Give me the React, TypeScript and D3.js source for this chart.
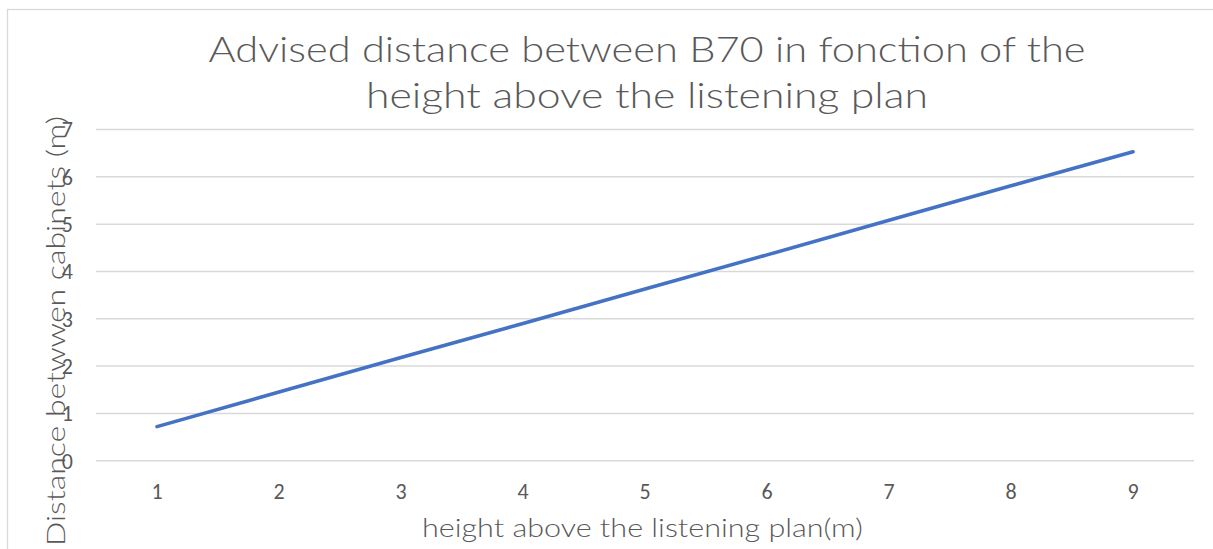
import React from "react";
import * as d3 from "d3";

const categories: string[] = ["1", "2", "3", "4", "5", "6", "7", "8", "9"];
const distances: number[] = [0.72, 1.45, 2.18, 2.9, 3.63, 4.35, 5.08, 5.81, 6.53];
const yTicks: number[] = [0, 1, 2, 3, 4, 5, 6, 7];
const titleLines: string[] = [
  "Advised distance between B70 in fonction of the",
  "height above the listening plan",
];
const xTitle = "height above the listening plan(m)";
const yTitle = "Distance betwwen cabinets (m)";

const W = 1213;
const H = 549;
const plot = { left: 96, right: 1194, top: 129.5, bottom: 460.7 };
const textColor = "#595959";
const gridColor = "#d9d9d9";
const lineColor = "#4472C4";
const titleFont = "'Century Gothic', 'URW Gothic', Lato, 'DejaVu Sans', sans-serif";
const tickFont = "Calibri, Carlito, Lato, 'Liberation Sans', sans-serif";

export default function App() {
  const x = d3.scaleBand<string>().domain(categories).range([plot.left, plot.right]);
  const y = d3.scaleLinear().domain([0, 7]).range([plot.bottom, plot.top]);
  const line = d3
    .line<number>()
    .x((_, i) => (x(categories[i]) as number) + x.bandwidth() / 2)
    .y((d) => y(d));

  return (
    <svg
      width={W}
      height={H}
      style={{ position: "fixed", left: 0, top: 0, background: "#fff" }}
    >
      <rect x={0} y={0} width={W} height={H} fill="#fff" />
      <rect
        x={7.5}
        y={9.5}
        width={W + 20}
        height={H + 20}
        fill="#fff"
        stroke={gridColor}
        strokeWidth={1.3}
      />
      {titleLines.map((t, i) => (
        <text
          key={t}
          x={647}
          y={61.7 + i * 46.3}
          textAnchor="middle"
          fontFamily={titleFont}
          fontWeight={300}
          fontSize={35}
          fill={textColor}
          textLength={i === 0 ? 877 : 562}
          lengthAdjust="spacingAndGlyphs"
        >
          {t}
        </text>
      ))}
      {yTicks.map((t) => (
        <line
          key={"g" + t}
          x1={plot.left}
          x2={plot.right}
          y1={y(t)}
          y2={y(t)}
          stroke={gridColor}
          strokeWidth={1.5}
        />
      ))}
      {yTicks.map((t) => (
        <text
          key={"yt" + t}
          x={73}
          y={y(t)}
          dy="0.36em"
          textAnchor="end"
          fontFamily={tickFont}
          fontSize={22}
          fill={textColor}
        >
          {t}
        </text>
      ))}
      {categories.map((c) => (
        <text
          key={"xt" + c}
          x={(x(c) as number) + x.bandwidth() / 2}
          y={499}
          textAnchor="middle"
          fontFamily={tickFont}
          fontSize={22}
          fill={textColor}
        >
          {c}
        </text>
      ))}
      <path
        d={line(distances) || ""}
        fill="none"
        stroke={lineColor}
        strokeWidth={3.6}
        strokeLinecap="round"
        strokeLinejoin="round"
      />
      <text
        x={642.5}
        y={537}
        textAnchor="middle"
        fontFamily={titleFont}
        fontWeight={300}
        fontSize={25}
        fill={textColor}
        textLength={441}
        lengthAdjust="spacingAndGlyphs"
      >
        {xTitle}
      </text>
      <text
        transform={`translate(64.5, 331) rotate(-90)`}
        x={0}
        y={0}
        textAnchor="middle"
        fontFamily={titleFont}
        fontWeight={300}
        fontSize={26}
        fill={textColor}
        textLength={430}
        lengthAdjust="spacingAndGlyphs"
      >
        {yTitle}
      </text>
    </svg>
  );
}
